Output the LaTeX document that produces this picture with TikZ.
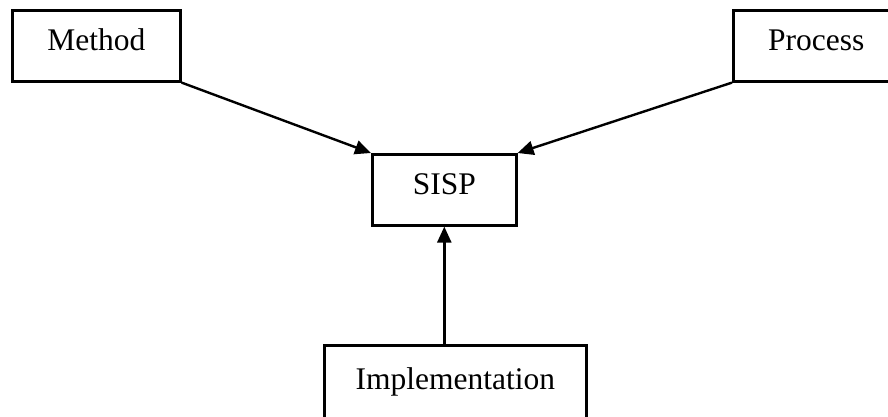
\documentclass[tikz,border=0pt]{standalone}
\usepackage{fontspec}
\setmainfont{Liberation Serif}
\usetikzlibrary{arrows.meta}
\begin{document}
\begin{tikzpicture}[x=1pt,y=-1pt,
  box/.style={draw, line width=2.6pt, anchor=north west, inner sep=0pt,
    minimum height=71pt, font=\fontsize{31.5}{36}\selectfont,
    text height=22pt, text depth=13pt},
  link/.style={line width=2.4pt, -{Triangle[length=16pt,width=14pt]}}]
\useasboundingbox (0,0) rectangle (888,416);
\clip (0,0) rectangle (888,416);
% boxes
\node[box, minimum width=168pt] (method) at (11,9) {Method};
\node[box, minimum width=166pt] (process) at (732,9) {Process};
\node[box, minimum width=144pt] (sisp) at (371,153) {SISP};
\node[box, minimum width=262pt, minimum height=80pt] (impl) at (323,344) {Implementation};
% connectors
\draw[link] (method.south east) -- (sisp.north west);
\draw[link] (process.south west) -- (sisp.north east);
\draw[link] (sisp.south |- impl.north) -- (sisp.south);
\end{tikzpicture}
\end{document}
